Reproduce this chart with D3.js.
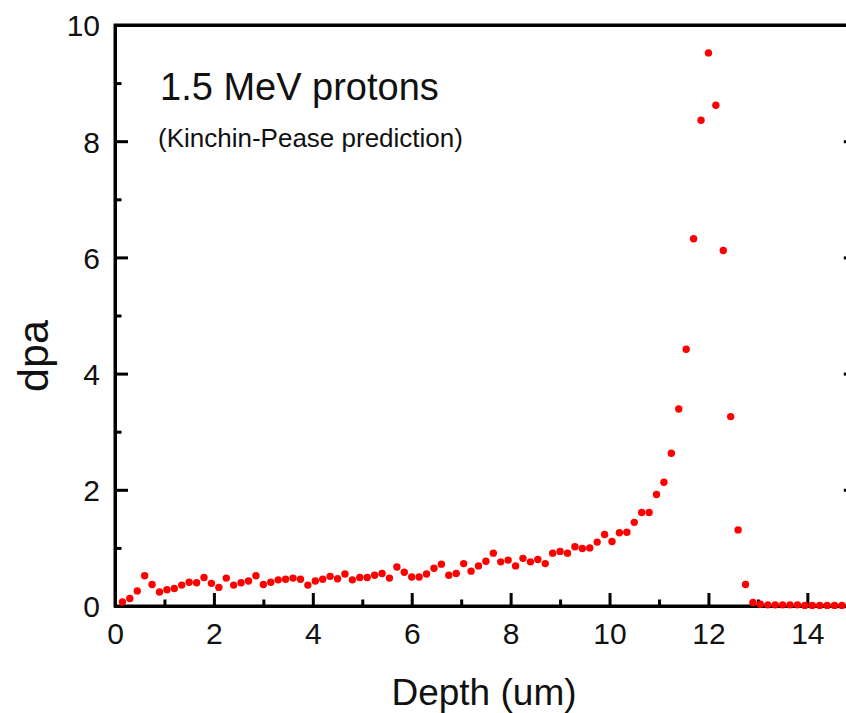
<!DOCTYPE html>
<html>
<head>
<meta charset="utf-8">
<script src="https://cdn.jsdelivr.net/npm/d3@7/dist/d3.min.js"></script>
<style>
  html, body { margin: 0; padding: 0; background: #fff; }
  svg { display: block; }
  text { font-family: "Liberation Sans", Arial, sans-serif; fill: #111; }
</style>
</head>
<body>
<svg id="chart" width="846" height="713"></svg>
<script>
// ---- data ----
const depthStep = 0.15;
const dpaValues = [
  0.07, 0.13, 0.26, 0.52, 0.37, 0.24, 0.28, 0.30, 0.36, 0.41,
  0.40, 0.49, 0.39, 0.32, 0.48, 0.36, 0.40, 0.43, 0.52, 0.37,
  0.41, 0.45, 0.46, 0.48, 0.46, 0.36, 0.43, 0.46, 0.51, 0.47,
  0.55, 0.45, 0.49, 0.49, 0.53, 0.56, 0.48, 0.67, 0.58, 0.50,
  0.50, 0.55, 0.65, 0.72, 0.53, 0.56, 0.73, 0.60, 0.69, 0.77,
  0.91, 0.76, 0.79, 0.69, 0.82, 0.76, 0.80, 0.73, 0.91, 0.94,
  0.91, 1.02, 0.99, 1.00, 1.10, 1.23, 1.11, 1.26, 1.27, 1.44,
  1.61, 1.61, 1.92, 2.13, 2.63, 3.39, 4.42, 6.32, 8.36, 9.52,
  8.62, 6.12, 3.26, 1.31, 0.37, 0.06, 0.03, 0.02, 0.02, 0.02,
  0.02, 0.02, 0.01, 0.01, 0.01, 0.01, 0.01, 0.01, 0.01, 0.01
];
const depths = dpaValues.map((v, i) => +((i + 1) * depthStep).toFixed(2));
const xMajorTicks = [0, 2, 4, 6, 8, 10, 12, 14];
const xMinorTicks = [1, 3, 5, 7, 9, 11, 13, 15];
const yMajorTicks = [0, 2, 4, 6, 8, 10];
const yMinorTicks = [1, 3, 5, 7, 9];
const titleText = "1.5 MeV protons";
const subtitleText = "(Kinchin-Pease prediction)";
const xLabel = "Depth (um)";
const yLabel = "dpa";

// ---- layout ----
const mLeft = 115, mRight = 856.8, mTop = 25, mBottom = 606;
const svg = d3.select("#chart");
const x = d3.scaleLinear().domain([0, 15]).range([mLeft, mRight]);
const y = d3.scaleLinear().domain([0, 10]).range([mBottom, mTop]);

const majorLen = 13, minorLen = 6.5;

// bottom axis
const gB = svg.append("g").attr("transform", `translate(0,${mBottom})`);
gB.call(d3.axisBottom(x).tickValues(xMajorTicks).tickSize(-majorLen).tickPadding(17).tickFormat(d3.format("d")));
gB.append("g").call(d3.axisBottom(x).tickValues(xMinorTicks).tickSize(-minorLen).tickFormat(""));
// left axis
const gL = svg.append("g").attr("transform", `translate(${mLeft},0)`);
gL.call(d3.axisLeft(y).tickValues(yMajorTicks).tickSize(-majorLen).tickPadding(15).tickFormat(d3.format("d")));
gL.append("g").call(d3.axisLeft(y).tickValues(yMinorTicks).tickSize(-minorLen).tickFormat(""));
// right axis (mostly out of view)
const gR = svg.append("g").attr("transform", `translate(${mRight},0)`);
gR.call(d3.axisRight(y).tickValues(yMajorTicks).tickSize(-majorLen).tickFormat(""));
gR.append("g").call(d3.axisRight(y).tickValues(yMinorTicks).tickSize(-minorLen).tickFormat(""));
// top axis
const gT = svg.append("g").attr("transform", `translate(0,${mTop})`);
gT.call(d3.axisTop(x).tickValues([]).tickSize(0));

svg.selectAll(".domain").attr("stroke", "#000").attr("stroke-width", 3);
svg.selectAll(".tick line").attr("stroke", "#000").attr("stroke-width", 3);
svg.selectAll(".tick text").style("font-size", "30px").style("font-family", "Liberation Sans, Arial, sans-serif").attr("fill", "#111");
gL.selectAll(".tick text").attr("dy", "0.36em");

// frame
svg.append("rect")
  .attr("x", x(0)).attr("y", y(10))
  .attr("width", x(15) - x(0)).attr("height", y(0) - y(10))
  .attr("fill", "none").attr("stroke", "#000").attr("stroke-width", 3);

// points
svg.append("g").selectAll("circle")
  .data(dpaValues)
  .join("circle")
  .attr("cx", (d, i) => x(depths[i]))
  .attr("cy", d => y(d))
  .attr("r", 3.7)
  .attr("fill", "#ff0000");

// texts
svg.append("text").attr("x", 160).attr("y", 100)
  .style("font-size", "38px").text(titleText);
svg.append("text").attr("x", 158).attr("y", 147)
  .style("font-size", "26px").text(subtitleText);
svg.append("text").attr("x", 484).attr("y", 705).attr("text-anchor", "middle")
  .style("font-size", "37px").text(xLabel);
svg.append("text").attr("transform", "translate(48,356) rotate(-90)").attr("text-anchor", "middle")
  .style("font-size", "43px").text(yLabel);
</script>
</body>
</html>
